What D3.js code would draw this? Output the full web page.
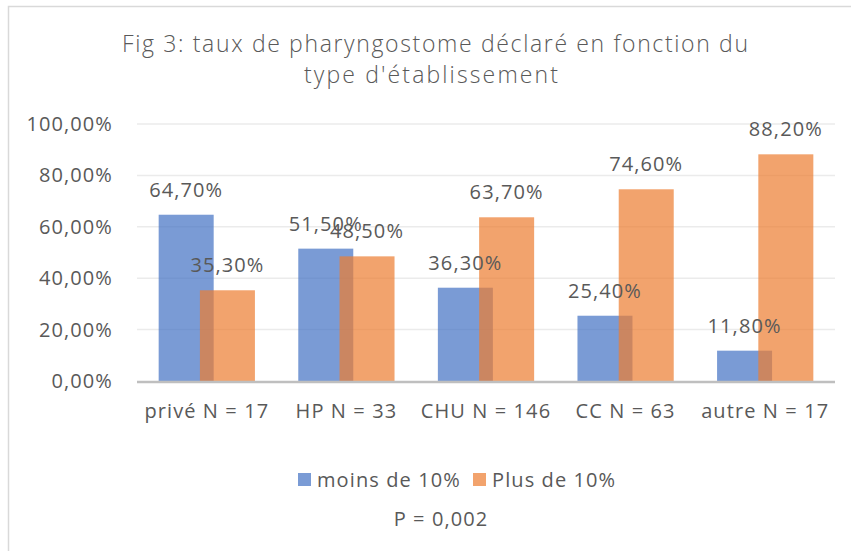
<!DOCTYPE html>
<html>
<head>
<meta charset="utf-8">
<script src="https://cdn.jsdelivr.net/npm/d3@7"></script>
<style>
    body { margin: 0; background: #fff; }
    svg text { font-family: "Open Sans", sans-serif; fill: #595959; }
    svg text.lbl { font-size: 20px; letter-spacing: 1.1px; }
</style>
</head>
<body>
<div id="chart"></div>
<script>
var categories = ['privé N = 17', 'HP N = 33', 'CHU N = 146', 'CC N = 63', 'autre N = 17'];
var moinsDe10 = [64.7, 51.5, 36.3, 25.4, 11.8];
var plusDe10 = [35.3, 48.5, 63.7, 74.6, 88.2];
var seriesNames = ['moins de 10%', 'Plus de 10%'];
var seriesColors = ['#4472C4', '#ED7D31'];
var yTicks = [0, 20, 40, 60, 80, 100];
var titleLines = ['Fig 3: taux de pharyngostome déclaré en fonction du', "type d'établissement"];
var footnote = 'P = 0,002';

function drawChart(container) {
    var self = this;
    var W = 851, H = 551;

    var fr = d3.formatLocale({ decimal: ',', thousands: ' ', grouping: [3], currency: ['', ' €'] });
    self.fmt = function (v) { return fr.format('.2f')(v) + '%'; };

    var svg = d3.select(container).append('svg')
        .attr('width', W)
        .attr('height', H);

    // chart frame (only top / left edges fall inside the picture)
    svg.append('rect')
        .attr('x', 8.5).attr('y', 6.5)
        .attr('width', 900).attr('height', 600)
        .attr('fill', '#fff')
        .attr('stroke', '#D9D9D9')
        .attr('stroke-width', 1.5);

    var title = svg.append('g');
    title.append('text')
        .attr('x', 435).attr('y', 52)
        .attr('text-anchor', 'middle')
        .attr('textLength', 626).attr('lengthAdjust', 'spacing')
        .style('font-size', '23px').style('font-weight', 300)
        .text(titleLines[0]);
    title.append('text')
        .attr('x', 431).attr('y', 83)
        .attr('text-anchor', 'middle')
        .attr('textLength', 254).attr('lengthAdjust', 'spacing')
        .style('font-size', '23px').style('font-weight', 300)
        .text(titleLines[1]);

    var x = d3.scaleBand().domain(categories).range([137, 835]).padding(0);
    var y = d3.scaleLinear().domain([0, 100]).range([381, 124]);

    // grid
    svg.append('g').selectAll('line')
        .data(yTicks.slice(1))
        .join('line')
        .attr('x1', x.range()[0]).attr('x2', x.range()[1])
        .attr('y1', function (d) { return y(d); })
        .attr('y2', function (d) { return y(d); })
        .attr('stroke', '#EBEBEB')
        .attr('stroke-width', 1.5);

    svg.append('g').selectAll('text')
        .data(yTicks)
        .join('text')
        .attr('class', 'lbl')
        .attr('x', 113)
        .attr('y', function (d) { return y(d) + 7; })
        .attr('text-anchor', 'end')
        .text(function (d) { return self.fmt(d); });

    // bars: 2 series, overlapping
    var barW = x.bandwidth() * 0.394;
    var overlap = barW * 0.25;
    var groupW = barW * 2 - overlap;
    var series = [moinsDe10, plusDe10];

    series.forEach(function (vals, si) {
        var off = -groupW / 2 + si * (barW - overlap);
        svg.append('g').selectAll('rect')
            .data(vals)
            .join('rect')
            .attr('x', function (d, i) { return x(categories[i]) + x.bandwidth() / 2 + off; })
            .attr('y', function (d) { return y(d); })
            .attr('width', barW)
            .attr('height', function (d) { return y(0) - y(d); })
            .attr('fill', seriesColors[si])
            .attr('fill-opacity', 0.71);
    });

    series.forEach(function (vals, si) {
        var off = -groupW / 2 + si * (barW - overlap) + barW / 2;
        svg.append('g').selectAll('text')
            .data(vals)
            .join('text')
            .attr('class', 'lbl')
            .attr('x', function (d, i) { return x(categories[i]) + x.bandwidth() / 2 + off; })
            .attr('y', function (d) { return y(d) - 18; })
            .attr('text-anchor', 'middle')
            .text(function (d) { return self.fmt(d); });
    });

    // x axis line
    svg.append('line')
        .attr('x1', x.range()[0]).attr('x2', x.range()[1])
        .attr('y1', y(0) + 1).attr('y2', y(0) + 1)
        .attr('stroke', '#BFBFBF')
        .attr('stroke-width', 2.5);

    svg.append('g').selectAll('text')
        .data(categories)
        .join('text')
        .attr('class', 'lbl')
        .attr('x', function (d) { return x(d) + x.bandwidth() / 2; })
        .attr('y', 418)
        .attr('text-anchor', 'middle')
        .text(function (d) { return d; });

    // legend
    var legendX = [298, 473];
    var legend = svg.append('g').selectAll('g')
        .data(seriesNames)
        .join('g')
        .attr('transform', function (d, i) { return 'translate(' + legendX[i] + ',473)'; });
    legend.append('rect')
        .attr('width', 13).attr('height', 13)
        .attr('fill', function (d, i) { return seriesColors[i]; })
        .attr('fill-opacity', 0.71);
    legend.append('text')
        .attr('class', 'lbl')
        .attr('x', 19).attr('y', 14)
        .text(function (d) { return d; });

    svg.append('text')
        .attr('class', 'lbl')
        .attr('x', 441).attr('y', 526)
        .attr('text-anchor', 'middle')
        .text(footnote);
}

drawChart(document.getElementById('chart'));
</script>
</body>
</html>
